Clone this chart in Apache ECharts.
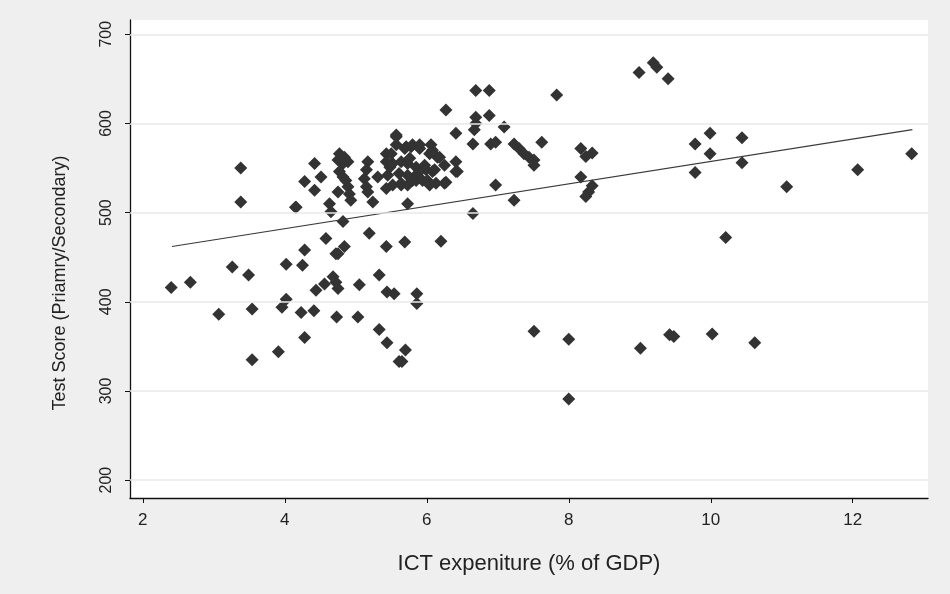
<!DOCTYPE html>
<html>
<head>
<meta charset="utf-8">
<script src="https://cdn.jsdelivr.net/npm/echarts@6/dist/echarts.min.js"></script>
<style>
html,body{margin:0;padding:0;background:#efefef;}
#chart{width:950px;height:594px;}
</style>
</head>
<body>
<div id="chart"></div>
<script>
// ICT expenditure (% of GDP)
var ictX = [
  2.40, 2.67, 3.07, 3.26, 3.38, 3.38, 3.49, 3.54, 3.54, 3.91,
  4.02, 4.02, 3.96, 4.16, 4.23, 4.25, 4.28, 4.28, 4.28, 4.42,
  4.41, 4.42, 4.44, 4.51, 4.56, 4.58, 4.63, 4.65, 4.68, 4.72,
  4.72, 4.75, 4.73, 4.75, 4.77, 4.84, 4.89, 4.82, 4.77, 4.82,
  4.75, 4.86, 4.89, 4.91, 4.93, 4.82, 4.84, 4.75, 5.03, 5.05,
  5.17, 5.15, 5.12, 5.15, 5.17, 5.19, 5.24, 5.31, 5.33, 5.33,
  5.43, 5.44, 5.54, 5.43, 5.43, 5.45, 5.43, 5.48, 5.50, 5.52,
  5.52, 5.57, 5.57, 5.57, 5.61, 5.64, 5.64, 5.64, 5.69, 5.71,
  5.73, 5.73, 5.73, 5.76, 5.78, 5.80, 5.80, 5.85, 5.85, 5.87,
  5.90, 5.90, 5.94, 5.97, 5.99, 6.01, 6.04, 6.04, 6.06, 6.08,
  6.08, 6.11, 6.13, 6.15, 6.18, 6.25, 6.25, 6.27, 6.41, 6.41,
  6.41, 6.43, 5.44, 5.61, 5.65, 5.70, 5.86, 5.86, 5.69, 6.20,
  6.27, 6.65, 6.65, 6.67, 6.69, 6.69, 6.69, 6.88, 6.88, 6.90,
  6.97, 6.97, 7.09, 7.23, 7.23, 7.30, 7.37, 7.44, 7.51, 7.51,
  7.62, 7.83, 8.17, 8.24, 8.33, 8.17, 8.33, 8.28, 8.24, 7.51,
  8.00, 8.00, 9.01, 9.42, 9.48, 10.02, 10.62, 8.99, 9.19, 9.24,
  9.40, 9.78, 9.99, 9.99, 9.78, 10.44, 10.44, 11.07, 12.07, 12.83,
  10.21, 5.73, 4.15
];
// Test score (Primary/Secondary)
var score = [
  416, 422, 386, 439, 550, 512, 430, 392, 335, 344,
  442, 403, 394, 506, 388, 441, 535, 458, 360, 555,
  390, 525, 413, 540, 420, 471, 510, 501, 428, 422,
  454, 415, 383, 523, 566, 562, 557, 555, 546, 540,
  559, 536, 529, 521, 514, 490, 462, 454, 383, 419,
  557, 548, 538, 529, 523, 477, 512, 540, 430, 369,
  462, 411, 409, 566, 557, 542, 527, 551, 566, 555,
  531, 587, 576, 585, 544, 557, 531, 533, 572, 574,
  542, 531, 555, 561, 574, 576, 536, 551, 536, 544,
  576, 572, 536, 553, 548, 536, 566, 531, 576, 570,
  546, 548, 533, 562, 562, 553, 533, 534, 557, 546,
  589, 546, 354, 333, 333, 346, 409, 398, 467, 468,
  615, 577, 499, 593, 600, 607, 637, 609, 637, 577,
  579, 531, 596, 577, 514, 572, 566, 562, 559, 553,
  579, 632, 572, 563, 567, 540, 530, 523, 518, 367,
  358, 291, 348, 363, 361, 364, 354, 657, 668, 663,
  650, 577, 589, 566, 545, 584, 556, 529, 548, 566,
  472, 510, 506
];
// Fitted line endpoints
var fitX = [2.41, 12.84];
var fitY = [462, 593];
// Tick labels
var xTicks = [2, 4, 6, 8, 10, 12];
var yTicks = [200, 300, 400, 500, 600, 700];
var xTitle = 'ICT expeniture (% of GDP)';
var yTitle = 'Test Score (Priamry/Secondary)';

var points = ictX.map(function (x, i) { return [x, score[i]]; });
var fitLine = fitX.map(function (x, i) { return [x, fitY[i]]; });

var chart = echarts.init(document.getElementById('chart'), null, {renderer: 'canvas'});
var font = 'Liberation Sans, Arial, Helvetica, sans-serif';
chart.setOption({
  backgroundColor: '#efefef',
  animation: false,
  grid: {
    left: 130, right: 22, top: 20, bottom: 96,
    show: true, backgroundColor: '#ffffff', borderWidth: 0
  },
  graphic: [{
    type: 'text', x: 60, y: 283, rotation: Math.PI / 2, silent: true,
    style: {
      text: yTitle, fill: '#222', font: '18px ' + font,
      align: 'center', verticalAlign: 'middle'
    }
  }],
  xAxis: {
    type: 'value', min: 1.82, max: 13.06,
    name: xTitle,
    nameLocation: 'middle', nameGap: 55,
    nameTextStyle: {fontFamily: font, fontSize: 22, color: '#222'},
    axisLine: {show: true, onZero: false, lineStyle: {color: '#111', width: 1.3}},
    axisTick: {show: true, length: 5, customValues: xTicks, lineStyle: {color: '#111'}},
    axisLabel: {customValues: xTicks, fontFamily: font, fontSize: 17, color: '#222', margin: 14},
    splitLine: {show: false}
  },
  yAxis: {
    type: 'value', min: 180, max: 716,
    axisLine: {show: true, onZero: false, lineStyle: {color: '#111', width: 1.3}},
    axisTick: {show: true, length: 5, customValues: yTicks, lineStyle: {color: '#111'}},
    axisLabel: {customValues: yTicks, rotate: 90, fontFamily: font, fontSize: 16, color: '#222', margin: 15},
    splitLine: {show: false}
  },
  series: [
    {
      type: 'line', data: [], silent: true,
      markLine: {
        silent: true, symbol: 'none', animation: false,
        label: {show: false},
        lineStyle: {color: '#e9e9e9', width: 1.5, type: 'solid'},
        data: yTicks.map(function (v) { return {yAxis: v}; })
      }
    },
    {
      type: 'scatter', data: points, symbol: 'diamond', symbolSize: 13,
      itemStyle: {color: '#333333', opacity: 1}
    },
    {
      type: 'line', data: fitLine, symbol: 'none', silent: true,
      lineStyle: {color: '#3a3a3a', width: 1.2}
    }
  ]
});
</script>
</body>
</html>
